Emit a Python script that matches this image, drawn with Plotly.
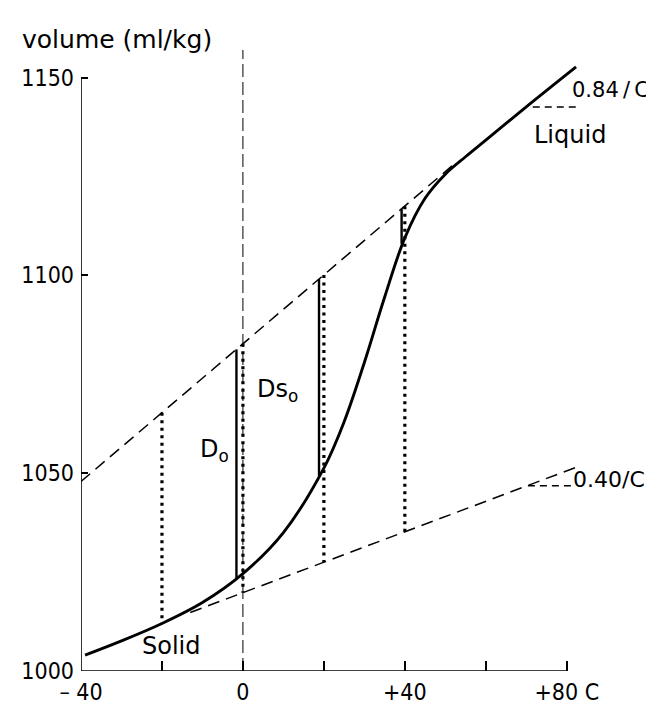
import plotly.graph_objects as go

# ---- data (temperature in C, volume in ml/kg) ----
curve_t = [-39, -30, -20, -10, 0, 10, 20, 25, 30, 35, 40, 45, 50, 55, 60, 70, 82.3]
curve_v = [1004.0, 1007.6, 1012.0, 1017.3, 1024.6, 1035.0, 1051.3, 1063.0, 1078.0, 1094.5,
           1109.5, 1119.5, 1125.6, 1130.0, 1134.2, 1142.6, 1152.7]

liquid_ext_t = [-40, 52]
liquid_ext_v = [1047.9, 1128.0]

solid_ext_t = [-13, 82.6]
solid_ext_v = [1014.8, 1051.6]

dotted_t = [-20, 0, 20, 40]
dotted_top = [1065.3, 1082.7, 1100.1, 1117.5]
dotted_bottom = [1012.0, 1019.8, 1027.5, 1035.2]

d_t = [-1.6, 18.8, 39.2]
d_top = [1081.3, 1099.1, 1116.8]
d_bottom = [1023.4, 1049.3, 1108.0]

liq_tan_t = [71.6, 82.3]
liq_tan_v = [1142.6, 1142.6]
sol_tan_t = [70.4, 81.2]
sol_tan_v = [1046.8, 1046.8]

zero_t = [0, 0]
zero_v = [1000, 1157]

x_tickvals = [-40, 0, 40, 80]
x_ticktext = ["– 40", "0", "+40", "+80 C"]
x_minor_tickvals = [-20, 20, 60]
y_tickvals = [1000, 1050, 1100, 1150]
y_ticktext = ["1000", "1050", "1100", "1150"]

TICKFONT = "DejaVu Sans Condensed, DejaVu Sans, sans-serif"
LABFONT = "DejaVu Sans, sans-serif"
W, H = 654, 709
ML, MR, MT, MB = 73, 75, 38, 33
PW, PH = W - ML - MR, H - MT - MB

def paper_x(px):
    return (px - ML) / PW

def paper_y(py):
    return 1 - (py - MT) / PH

fig = go.Figure()

def add_line(x, y, width, dash="solid", color="black", shape="linear"):
    fig.add_trace(go.Scatter(x=x, y=y, mode="lines", showlegend=False, hoverinfo="skip",
                             line=dict(color=color, width=width, dash=dash, shape=shape)))

# vertical dashed zero line
add_line(zero_t, zero_v, 1, dash="13px,5px")
# extrapolation lines
add_line(liquid_ext_t, liquid_ext_v, 1.5, dash="12px,7px")
add_line(solid_ext_t, solid_ext_v, 1.5, dash="12px,7px")
add_line(liq_tan_t, liq_tan_v, 1.5, dash="7px,5px")
add_line(sol_tan_t, sol_tan_v, 1.5, dash="7px,5px")

# dotted verticals
dx, dy = [], []
for t, a, b in zip(dotted_t, dotted_top, dotted_bottom):
    dx += [t, t, None]
    dy += [a, b, None]
add_line(dx, dy, 3.2, dash="3px,4.5px")

# solid D verticals
sx, sy = [], []
for t, a, b in zip(d_t, d_top, d_bottom):
    sx += [t, t, None]
    sy += [a, b, None]
add_line(sx, sy, 2.4)

# main curve
add_line(curve_t, curve_v, 2.9, shape="spline")

# axis lines
fig.add_shape(type="line", x0=-40, x1=80, y0=1000, y1=1000, line=dict(color="black", width=1.6))
fig.add_shape(type="line", x0=-40, x1=-40, y0=1000, y1=1150, line=dict(color="black", width=1.6))

anns = [
    dict(xref="paper", yref="paper", x=paper_x(12), y=paper_y(31), text="volume (ml/kg)",
         xanchor="left", yanchor="middle", font=dict(size=25, family=LABFONT)),
    dict(x=80.9, y=1146.8, text="0.84\u2009/\u2009C", xanchor="left", yanchor="middle",
         font=dict(size=21, family=LABFONT)),
    dict(x=71.4, y=1135.6, text="Liquid", xanchor="left", yanchor="middle"),
    dict(x=81.0, y=1048.5, text="0.40/C", xanchor="left", yanchor="middle",
         font=dict(size=22, family=LABFONT)),
    dict(x=-17.7, y=1006.2, text="Solid", xanchor="center", yanchor="middle"),
    dict(x=-7.0, y=1055.8, text="D<sub>o</sub>", xanchor="center", yanchor="middle"),
    dict(x=8.6, y=1071.0, text="Ds<sub>o</sub>", xanchor="center", yanchor="middle"),
]
for a in anns:
    a.setdefault("xref", "x")
    a.setdefault("yref", "y")
    a.setdefault("font", dict(size=24, family=LABFONT))
    a["showarrow"] = False
    fig.add_annotation(**a)

fig.update_layout(
    width=W, height=H,
    margin=dict(l=ML, r=MR, t=MT, b=MB, pad=0),
    paper_bgcolor="white", plot_bgcolor="white",
    font=dict(family=TICKFONT, size=22, color="black"),
    xaxis=dict(range=[-40, 85], showgrid=False, zeroline=False, showline=False,
               tickmode="array", tickvals=x_tickvals, ticktext=x_ticktext,
               ticks="inside", ticklen=10, tickwidth=1.5, tickcolor="black",
               minor=dict(tickmode="array", tickvals=x_minor_tickvals, ticks="inside",
                          ticklen=10, tickwidth=1.5, tickcolor="black", showgrid=False),
               ticklabelstandoff=5, tickfont=dict(size=23, family=TICKFONT)),
    yaxis=dict(range=[1000, 1158], showgrid=False, zeroline=False, showline=False,
               tickmode="array", tickvals=y_tickvals, ticktext=y_ticktext,
               ticks="inside", ticklen=7, tickwidth=1.5, tickcolor="black",
               ticklabelstandoff=6, tickfont=dict(size=23, family=TICKFONT)),
)

fig.write_html("out.html")
